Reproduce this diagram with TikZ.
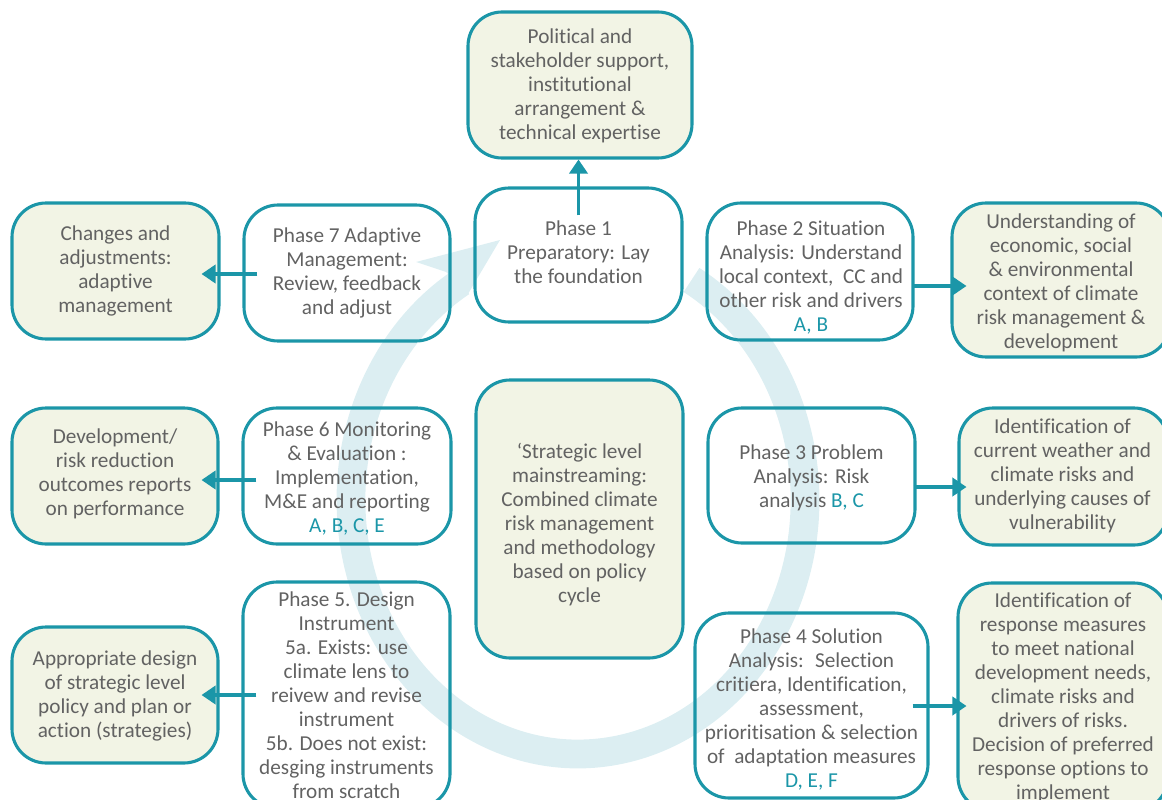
\documentclass[tikz,border=0pt]{standalone}
\usepackage{fontspec}
\setmainfont{Carlito}[Ligatures=NoCommon]
\usetikzlibrary{arrows.meta,calc}
\definecolor{cteal}{RGB}{27,150,168}
\definecolor{ctext}{RGB}{98,98,98}
\definecolor{ccream}{RGB}{242,244,229}
\definecolor{cband}{RGB}{220,238,242}
\tikzset{
  phasebox/.style={draw=cteal, line width=2.2pt, rounded corners=0.85cm, inner sep=0pt},
  outbox/.style={phasebox, fill=ccream},
  txt/.style={align=center, text=ctext, font=\fontsize{15.1}{17.07}\selectfont, inner sep=0pt},
  conn/.style={draw=cteal, line width=2.2pt, -{Triangle[length=10pt,width=13pt]}},
  band/.style={draw=cband, line width=0.72cm}
}
\newcommand{\lt}[1]{{\color{cteal}#1}}
\begin{document}
\begin{tikzpicture}[x=0.025cm, y=-0.025cm]
\useasboundingbox (0,0) rectangle (1162,800);
% circular arrow
\draw[band] (691.5,280) arc[start angle=-60, end angle=239, x radius=227, y radius=254];
\fill[cband] (446,272) -- (416,262) -- (500,240) -- (468,294) -- cycle;
% boxes
\node[outbox, minimum width=224*0.025cm, minimum height=146*0.025cm] (pol) at (580,85) {};
\node[txt] (polt) at ($(pol)+(0,1)$)
  {Political and\\stakeholder support,\\institutional\\arrangement \&\\technical expertise};
\node[phasebox, minimum width=207*0.025cm, minimum height=134*0.025cm] (p1) at (578.5,255) {};
\node[txt] (p1t) at ($(p1)+(0,-3)$)
  {Phase 1\\Preparatory: Lay\\the foundation};
\node[phasebox, minimum width=206*0.025cm, minimum height=136*0.025cm] (p7) at (347,273) {};
\node[txt] (p7t) at ($(p7)+(0,0)$)
  {Phase 7 Adaptive\\Management:\\Review, feedback\\and adjust};
\node[outbox, minimum width=207*0.025cm, minimum height=136*0.025cm] (chg) at (115.5,271) {};
\node[txt] (chgt) at ($(chg)+(0,0)$)
  {Changes and\\adjustments:\\adaptive\\management};
\node[phasebox, minimum width=206*0.025cm, minimum height=137*0.025cm] (p2) at (810,271.5) {};
\node[txt] (p2t) at ($(p2)+(1,6)$)
  {Phase 2 Situation\\Analysis: Understand\\local context,~ CC and\\other risk and drivers\\\lt{A, B}};
\node[outbox, minimum width=218*0.025cm, minimum height=154*0.025cm] (und) at (1061,280) {};
\node[txt] (undt) at ($(und)+(0,3)$)
  {Understanding of\\economic, social\\\& environmental\\context of climate\\risk management \&\\development};
\node[phasebox, minimum width=208*0.025cm, minimum height=136*0.025cm] (p6) at (347,476) {};
\node[txt] (p6t) at ($(p6)+(0,2)$)
  {Phase 6 Monitoring\\\& Evaluation :\\Implementation,\\M\&E and reporting\\\lt{A, B, C, E}};
\node[outbox, minimum width=206*0.025cm, minimum height=136*0.025cm] (dev) at (115,476) {};
\node[txt] (devt) at ($(dev)+(0,-2)$)
  {Development/\\risk reduction\\outcomes reports\\on performance};
\node[outbox, minimum width=207*0.025cm, minimum height=278*0.025cm] (ctr) at (579.5,519) {};
\node[txt] (ctrt) at ($(ctr)+(0,6)$)
  {‘Strategic level\\mainstreaming:\\Combined climate\\risk management\\and methodology\\based on policy\\cycle};
\node[phasebox, minimum width=207*0.025cm, minimum height=135*0.025cm] (p3) at (811.5,475.5) {};
\node[txt] (p3t) at ($(p3)+(0,2)$)
  {Phase 3 Problem\\Analysis: Risk\\analysis \lt{B, C}};
\node[outbox, minimum width=209*0.025cm, minimum height=137*0.025cm] (idc) at (1063.5,476.5) {};
\node[txt] (idct) at ($(idc)+(-1,-1)$)
  {Identification of\\current weather and\\climate risks and\\underlying causes of\\vulnerability};
\node[phasebox, minimum width=207*0.025cm, minimum height=226*0.025cm] (p5) at (346.5,695) {};
\node[txt] (p5t) at ($(p5)+(0,0)$)
  {Phase 5. Design\\Instrument\\5a. Exists: use\\climate lens to\\reivew and revise\\instrument\\5b. Does not exist:\\desging instruments\\from scratch};
\node[outbox, minimum width=206*0.025cm, minimum height=136*0.025cm] (app) at (115,695) {};
\node[txt] (appt) at ($(app)+(0,1)$)
  {Appropriate design\\of strategic level\\policy and plan or\\action (strategies)};
\node[phasebox, minimum width=233*0.025cm, minimum height=185*0.025cm] (p4) at (811.5,705.5) {};
\node[txt] (p4t) at ($(p4)+(0,4)$)
  {Phase 4 Solution\\Analysis:~ Selection\\critiera, Identification,\\assessment,\\prioritisation \& selection\\of~ adaptation measures\\\lt{D, E, F}};
\node[outbox, minimum width=210*0.025cm, minimum height=228*0.025cm] (idr) at (1063,697) {};
\node[txt] (idrt) at ($(idr)+(0,1)$)
  {Identification of\\response measures\\to meet national\\development needs,\\climate risks and\\drivers of risks.\\Decision of preferred\\response options to\\implement};
% connectors
\coordinate (s1) at ($(p1.north)+(0,29)$);
\draw[conn] (s1) -- (s1 |- pol.south);
\coordinate (s7) at ($(p7.west)+(15,1)$);
\draw[conn] (s7) -- ($(s7 -| chg.east)+(-19,0)$);
\coordinate (s2) at ($(p2.east)+(-1,14.5)$);
\draw[conn] (s2) -- ($(s2 -| und.west)+(16,0)$);
\coordinate (s6) at ($(p6.west)+(15,4)$);
\draw[conn] (s6) -- ($(s6 -| dev.east)+(-18,0)$);
\coordinate (s3) at ($(p3.east)+(-3,11.5)$);
\draw[conn] (s3) -- ($(s3 -| idc.west)+(9,0)$);
\coordinate (s5) at ($(p5.west)+(15,0)$);
\draw[conn] (s5) -- ($(s5 -| app.east)+(-18,0)$);
\coordinate (s4) at ($(p4.east)+(-17,0.5)$);
\draw[conn] (s4) -- ($(s4 -| idr.west)+(10,0)$);
\end{tikzpicture}
\end{document}
